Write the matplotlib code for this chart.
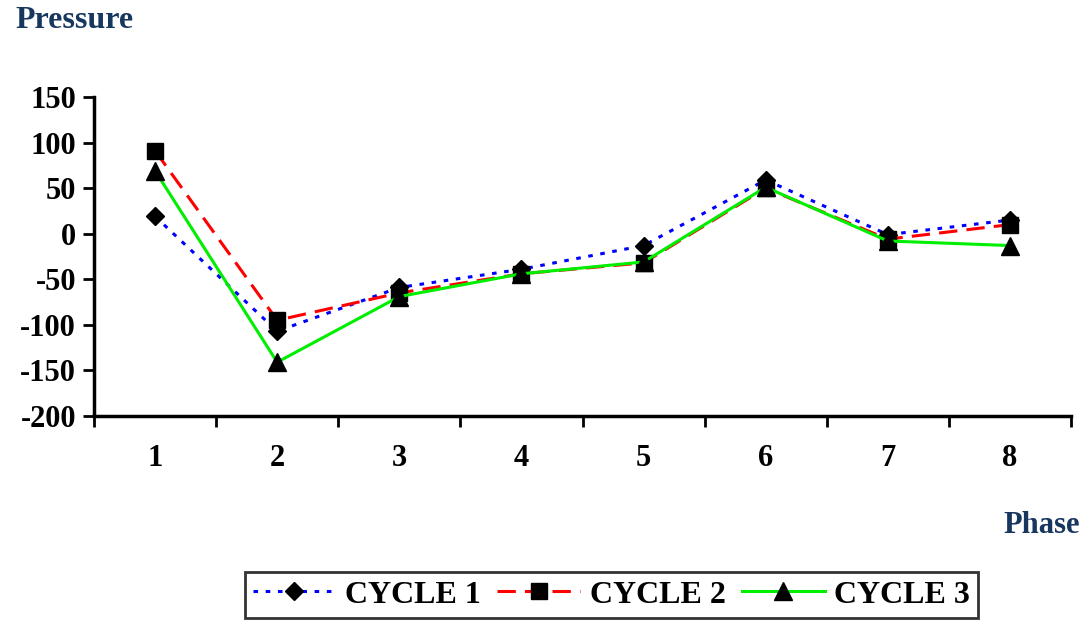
import matplotlib.pyplot as plt

plt.rcParams['font.family'] = 'Liberation Serif'
plt.rcParams['font.weight'] = 'bold'
plt.rcParams['axes.unicode_minus'] = False

phases = [1, 2, 3, 4, 5, 6, 7, 8]
cycle1 = [19, -107, -59, -39, -13, 59, -1, 15]
cycle2 = [91, -95, -65, -44, -32, 50, -6, 10]
cycle3 = [69, -141, -69, -44, -31, 51, -8, -13]
yticks = [-200, -150, -100, -50, 0, 50, 100, 150]

navy = '#17375e'

fig = plt.figure(figsize=(10.88, 6.23), dpi=100)
ax = fig.add_axes([0.0864, 0.3323, 0.8980, 0.5120])

ax.plot(phases, cycle1, color='blue', lw=2.2, dashes=(1.5, 2.5), marker='D',
        ms=9.5, mfc='black', mec='black', label='CYCLE 1')
ax.plot(phases, cycle2, color='red', lw=2.2, dashes=(6, 3), marker='s',
        ms=11.5, mfc='black', mec='black', label='CYCLE 2')
ax.plot(phases, cycle3, color='#00ee00', lw=2.2, marker='^',
        ms=12.5, mfc='black', mec='black', label='CYCLE 3')

ax.set_xlim(0.5, 8.5)
ax.set_ylim(-200, 150)
ax.set_yticks(yticks)
ax.set_yticklabels([str(v) for v in yticks], fontsize=22, fontweight='bold')

# category axis: tick marks between categories, labels centred
ax.set_xticks([p - 0.5 for p in phases] + [8.5])
ax.set_xticklabels([])
ax.set_xticks(phases, minor=True)
ax.set_xticklabels([str(p) for p in phases], minor=True, fontsize=22,
                   fontweight='bold')
ax.tick_params(axis='x', which='minor', length=0, pad=20)
ax.tick_params(axis='x', which='major', direction='out', length=8, width=2)
ax.tick_params(axis='y', direction='out', length=8, width=2, pad=5)

for side in ['top', 'right']:
    ax.spines[side].set_visible(False)
for side in ['left', 'bottom']:
    ax.spines[side].set_linewidth(2.5)

fig.text(0.014, 0.967, 'Pressure', color=navy, fontsize=23, fontweight='bold',
         va='center', ha='left')
fig.text(0.993, 0.157, 'Phase', color=navy, fontsize=22, fontweight='bold',
         va='center', ha='right')

leg = fig.legend(loc='center', bbox_to_anchor=(0.562, 0.045), ncol=3,
                 fontsize=23, frameon=True, fancybox=False, edgecolor='black',
                 handlelength=2.6, columnspacing=0.5, handletextpad=0.3,
                 borderpad=0.25, borderaxespad=0)
leg.get_frame().set_linewidth(2)

fig.savefig('out.png', dpi=100)
